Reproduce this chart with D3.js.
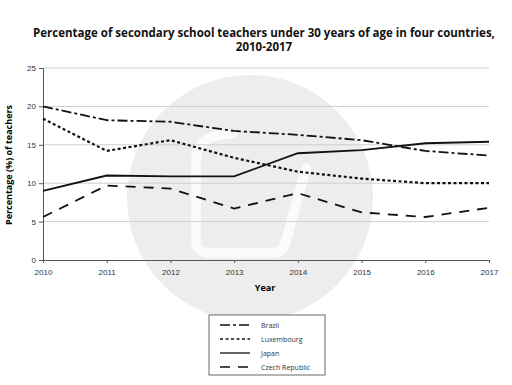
<!DOCTYPE html>
<html lang="en">
<head>
  <meta charset="UTF-8">
  <title>Secondary school teachers under 30</title>
  <script src="https://cdn.jsdelivr.net/npm/d3@7"></script>
  <style>
    body { margin: 0; background: #fff; }
    svg { font-family: "Open Sans", "Noto Sans", sans-serif; }
  </style>
</head>
<body>
  <div id="chart"></div>
  <script>
    // data
    const years = [2010, 2011, 2012, 2013, 2014, 2015, 2016, 2017];
    const brazil = [20, 18.2, 18, 16.8, 16.3, 15.6, 14.2, 13.6];
    const luxembourg = [18.4, 14.2, 15.6, 13.3, 11.5, 10.6, 10, 10];
    const japan = [9, 11, 10.9, 10.9, 13.9, 14.3, 15.2, 15.4];
    const czech = [5.6, 9.7, 9.3, 6.7, 8.7, 6.2, 5.6, 6.8];
    const yTicks = [0, 5, 10, 15, 20, 25];

    const series = [
      { name: "Brazil", values: brazil, dash: "10,3,3,3", w: 1.8 },
      { name: "Luxembourg", values: luxembourg, dash: "3,2.5", w: 2.2 },
      { name: "Japan", values: japan, dash: null, w: 1.8 },
      { name: "Czech Republic", values: czech, dash: "10,8", w: 1.8 }
    ];

    const width = 512, height = 385;
    const margin = { top: 68, right: 23, bottom: 125, left: 43 };

    const svg = d3.select("#chart").append("svg")
      .attr("width", width)
      .attr("height", height);

    // watermark
    const wm = svg.append("g");
    wm.append("circle")
      .attr("cx", 250).attr("cy", 198).attr("r", 123)
      .attr("fill", "#ededed");
    wm.append("path")
      .attr("d", "M232,134 Q196,134 196,162 L196,240 Q196,253 210,253 L272,253 Q283,253 286,241 L306,168")
      .attr("fill", "none")
      .attr("stroke", "#fbfbfb")
      .attr("stroke-width", 10)
      .attr("stroke-linecap", "round")
      .attr("stroke-linejoin", "round");

    const x = d3.scaleLinear()
      .domain([2010, 2017])
      .range([margin.left, width - margin.right]);

    const y = d3.scaleLinear()
      .domain([0, 25])
      .range([height - margin.bottom, margin.top]);

    // gridlines
    svg.append("g")
      .selectAll("line")
      .data(yTicks.filter(d => d > 0))
      .join("line")
      .attr("x1", margin.left)
      .attr("x2", width - margin.right)
      .attr("y1", d => y(d))
      .attr("y2", d => y(d))
      .attr("stroke", "#cfcfcf")
      .attr("stroke-width", 1);

    // x-axis
    const xAxis = svg.append("g")
      .attr("transform", `translate(0,${y(0)})`)
      .call(d3.axisBottom(x).tickValues(years).tickFormat(d3.format("d")).tickSize(3).tickPadding(6));
    xAxis.select(".domain").attr("stroke", "#555");
    xAxis.selectAll(".tick line").attr("stroke", "#555");
    xAxis.selectAll("text").attr("fill", "#333").style("font-size", "8px");

    // y-axis
    const yAxis = svg.append("g")
      .attr("transform", `translate(${margin.left},0)`)
      .call(d3.axisLeft(y).tickValues(yTicks).tickSize(4).tickPadding(3));
    yAxis.select(".domain").attr("stroke", "#555");
    yAxis.selectAll(".tick line").attr("stroke", "#555");
    yAxis.selectAll("text").attr("fill", "#333").style("font-size", "8px");

    // lines
    const line = d3.line()
      .x((d, i) => x(years[i]))
      .y(d => y(d));

    series.forEach(s => {
      svg.append("path")
        .datum(s.values)
        .attr("fill", "none")
        .attr("stroke", "#111")
        .attr("stroke-width", s.w)
        .attr("stroke-dasharray", s.dash)
        .attr("d", line);
    });

    // title
    const title = svg.append("text")
      .attr("text-anchor", "middle")
      .style("font-size", "11.5px")
      .style("font-weight", "bold")
      .attr("fill", "#111");
    title.append("tspan").attr("x", 264).attr("y", 37)
      .text("Percentage of secondary school teachers under 30 years of age in four countries,");
    title.append("tspan").attr("x", 264).attr("y", 51).text("2010-2017");

    // axis titles
    svg.append("text")
      .attr("x", 265).attr("y", 291)
      .attr("text-anchor", "middle")
      .style("font-size", "9px")
      .style("font-weight", "bold")
      .text("Year");

    svg.append("text")
      .attr("transform", "translate(12,165) rotate(-90)")
      .attr("text-anchor", "middle")
      .style("font-size", "9px")
      .style("font-weight", "bold")
      .text("Percentage (%) of teachers");

    // legend
    const legend = svg.append("g");
    legend.append("rect")
      .attr("x", 209).attr("y", 315)
      .attr("width", 116).attr("height", 60)
      .attr("fill", "#fff")
      .attr("stroke", "#444")
      .attr("stroke-width", 0.8);

    series.forEach((s, i) => {
      const ly = 325 + i * 14;
      legend.append("line")
        .attr("x1", 220).attr("x2", 250)
        .attr("y1", ly).attr("y2", ly)
        .attr("stroke", "#111")
        .attr("stroke-width", s.w - 0.5)
        .attr("stroke-dasharray", s.dash);
      legend.append("text")
        .attr("x", 261).attr("y", ly + 2.5)
        .style("font-size", "7px")
        .attr("fill", "#333")
        .text(s.name);
    });
  </script>
</body>
</html>
